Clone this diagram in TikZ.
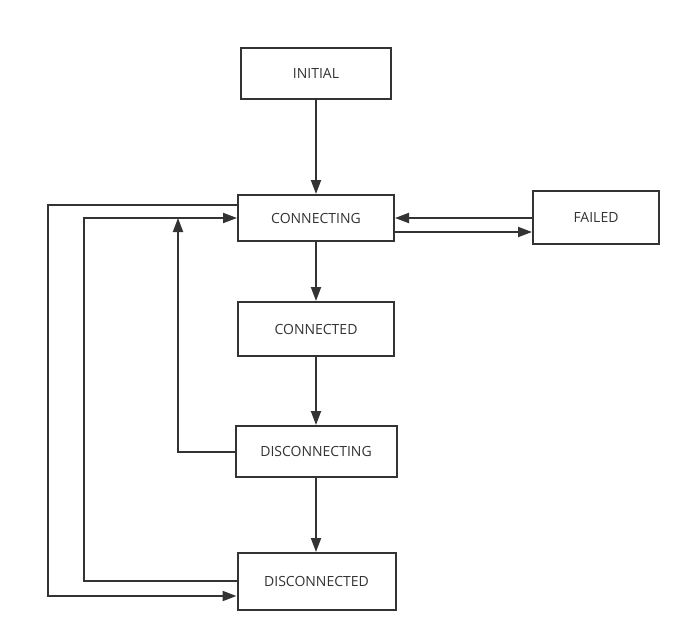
\documentclass[tikz,border=0pt]{standalone}
\usepackage{fontspec}
\setmainfont{Open Sans}
\usetikzlibrary{arrows.meta,calc}
\definecolor{ink}{HTML}{333333}
\begin{document}
\begin{tikzpicture}[x=0.75pt,y=-0.75pt,
  state/.style={draw=ink,line width=1.5pt,text=ink,inner sep=0pt,font=\fontsize{10.5}{12}\selectfont},
  conn/.style={draw=ink,line width=1.5pt,-{Triangle[length=10.5pt,width=7.5pt]}},
  plain/.style={draw=ink,line width=1.5pt}]
\useasboundingbox (0,0) rectangle (691,642);
\node[state,minimum width=112.5pt,minimum height=38.25pt] (init) at (316,73.5) {INITIAL};
\node[state,minimum width=117pt,minimum height=34.5pt] (cing) at (316,218) {CONNECTING};
\node[state,minimum width=94.5pt,minimum height=39.75pt] (fail) at (596,217.5) {FAILED};
\node[state,minimum width=117pt,minimum height=40.5pt] (ced) at (316,329) {CONNECTED};
\node[state,minimum width=120.75pt,minimum height=38.25pt] (ding) at (316,451.5) {DISCONNECTING};
\node[state,minimum width=118.5pt,minimum height=42.75pt] (dced) at (316.5,581.5) {DISCONNECTED};
\draw[conn] (init) -- (cing);
\draw[conn] (cing) -- (ced);
\draw[conn] (ced) -- (ding);
\draw[conn] (ding) -- (ding |- dced.north);
\draw[conn] (fail.west |- 0,218) -- (cing.east |- 0,218);
\draw[conn] (cing.east |- 0,232) -- (fail.west |- 0,232);
\coordinate (jn) at (178,218);
\draw[conn] (ding.west) -| (jn);
\draw[conn] (dced.west |- 0,581) -- (84,581) -- (84,218) -- (cing.west |- 0,218);
\draw[conn] (cing.west |- 0,205) -- (48,205) -- (48,596) -- (dced.west |- 0,596);
\end{tikzpicture}
\end{document}
